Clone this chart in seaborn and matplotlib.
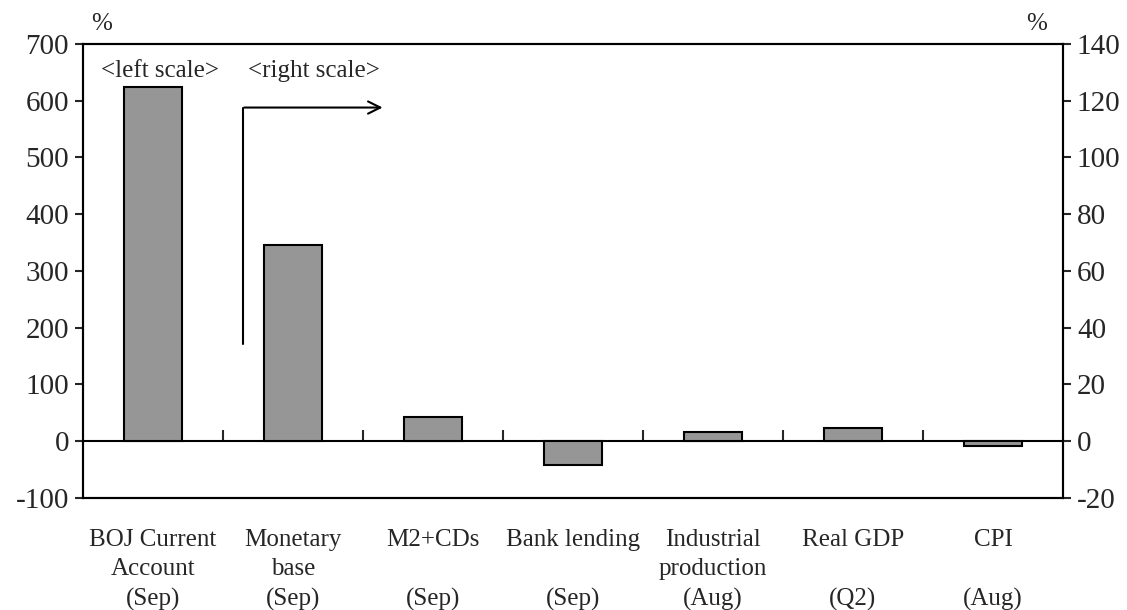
import pandas as pd
import matplotlib.pyplot as plt
import seaborn as sns

categories = ['BOJ Current\nAccount\n(Sep)', 'Monetary\nbase\n(Sep)', 'M2+CDs\n\n(Sep)',
              'Bank lending\n\n(Sep)', 'Industrial\nproduction\n(Aug)', 'Real GDP\n\n(Q2)', 'CPI\n\n(Aug)']
left_values = [625]
right_values = [69, 8.5, -8.5, 3.2, 4.6, -1.6]
left_ticks = [-100, 0, 100, 200, 300, 400, 500, 600, 700]
right_ticks = [-20, 0, 20, 40, 60, 80, 100, 120, 140]

sns.set_style('white')
plt.rcParams['font.family'] = ['Liberation Serif', 'DejaVu Serif']
plt.rcParams['axes.unicode_minus'] = False

left_df = pd.DataFrame({'cat': categories[:1], 'val': left_values})
right_df = pd.DataFrame({'cat': categories[1:], 'val': right_values})

fig = plt.figure(figsize=(11.27, 6.10), dpi=100)
ax = fig.add_axes([0.0736, 0.1836, 0.8696, 0.7443])
ax2 = ax.twinx()

bar_style = dict(color='#969696', edgecolor='black', linewidth=1.5, width=0.41,
                 saturation=1, errorbar=None, order=categories)
sns.barplot(data=left_df, x='cat', y='val', ax=ax, **bar_style)
sns.barplot(data=right_df, x='cat', y='val', ax=ax2, **bar_style)

ax.set_xlim(-0.5, len(categories) - 0.5)
ax.set_ylim(-100, 700)
ax2.set_ylim(-20, 140)
ax.set_yticks(left_ticks)
ax2.set_yticks(right_ticks)
ax.set_xlabel('')
ax.set_ylabel('')
ax2.set_ylabel('')

for a in (ax, ax2):
    for s in a.spines.values():
        s.set_visible(True)
        s.set_color('black')
        s.set_linewidth(1.5)

ax.tick_params(axis='y', direction='out', length=6, width=1.5, labelsize=21, pad=4, left=True)
ax2.tick_params(axis='y', direction='out', length=6, width=1.5, labelsize=21, pad=4, right=True)
ax.tick_params(axis='x', length=0, labelsize=18, pad=22)
ax.set_xticks(range(len(categories)))
ax.set_xticklabels(categories, linespacing=1.45)

# zero line with boundary ticks pointing up
zero = ax.secondary_xaxis(100 / 800)
zero.set_xticks([i + 0.5 for i in range(len(categories) - 1)])
zero.tick_params(direction='in', length=8, width=1.5, labelbottom=False, labeltop=False)
zero.spines['bottom'].set_linewidth(1.5)
zero.spines['bottom'].set_color('black')

ax.text(-0.5 + 0.13, 715, '%', fontsize=18, ha='center', va='bottom')
ax.text(6.5 - 0.19, 715, '%', fontsize=18, ha='center', va='bottom')

ax.text(0.05, 652, '<left scale>', fontsize=18, ha='center', va='center')
ax.text(1.15, 652, '<right scale>', fontsize=18, ha='center', va='center')

ax.plot([0.643, 0.643], [171, 588], color='black', linewidth=1.5)
ax.annotate('', xy=(1.66, 588), xytext=(0.632, 588),
            arrowprops=dict(arrowstyle='->', color='black', linewidth=1.5, mutation_scale=22))

fig.savefig('out.png', dpi=100)
